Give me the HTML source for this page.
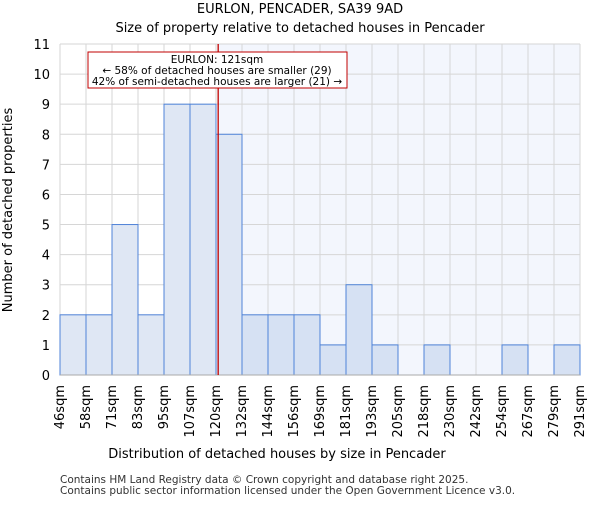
<!DOCTYPE html>
<html><head><meta charset="utf-8"><style>
body{margin:0;background:#fff;font-family:"Liberation Sans","DejaVu Sans",sans-serif}
svg text{font-family:"DejaVu Sans","Liberation Sans",sans-serif}
</style></head><body>
<svg id="c" width="600" height="500" viewBox="0 0 600 500">
<text x="300" y="13" text-anchor="middle" font-size="13">EURLON, PENCADER, SA39 9AD</text>
<text x="300" y="32" text-anchor="middle" font-size="13">Size of property relative to detached houses in Pencader</text>
<g id="plot"></g>
<text x="277" y="458" text-anchor="middle" font-size="13">Distribution of detached houses by size in Pencader</text>
<text transform="translate(12,210) rotate(-90)" text-anchor="middle" font-size="13">Number of detached properties</text>
<text x="60" y="483" font-size="10.5" fill="#333">Contains HM Land Registry data © Crown copyright and database right 2025.</text>
<text x="60" y="494" font-size="10.5" fill="#333">Contains public sector information licensed under the Open Government Licence v3.0.</text>
</svg>
<script>
const binLabels=["46sqm","58sqm","71sqm","83sqm","95sqm","107sqm","120sqm","132sqm","144sqm","156sqm","169sqm","181sqm","193sqm","205sqm","218sqm","230sqm","242sqm","254sqm","267sqm","279sqm","291sqm"];
const binEdges=[46,58,71,83,95,107,120,132,144,156,169,181,193,205,218,230,242,254,267,279,291];
const counts=[2,2,5,2,9,9,8,2,2,2,1,3,1,0,1,0,0,1,0,1];
const yTicks=[0,1,2,3,4,5,6,7,8,9,10,11];
const subjectSize=121;
const x0=60,x1=580,y0=375,y1=44,yMax=11;
const n=counts.length;
const bw=(x1-x0)/n;
const xIdx=i=>x0+i*bw;
const y=v=>y0-(v/yMax)*(y0-y1);
function xVal(v){for(let i=0;i<binEdges.length-1;i++){if(v<=binEdges[i+1])return xIdx(i+(v-binEdges[i])/(binEdges[i+1]-binEdges[i]));}return x1;}
const NS="http://www.w3.org/2000/svg";
const g=document.getElementById('plot');
function mk(t,a){const e=document.createElementNS(NS,t);for(const k in a)e.setAttribute(k,a[k]);g.appendChild(e);return e;}
const sx=xVal(subjectSize);
let bg=mk('rect',{x:sx,y:y1,width:x1-sx,height:y0-y1,fill:'#f3f6fd'});


for(let i=0;i<=n;i++){let l=mk('line',{x1:xIdx(i),x2:xIdx(i),y1:y1,y2:y0,stroke:'#d6d6d6','stroke-width':1});

}
yTicks.forEach(t=>{let l=mk('line',{x1:x0,x2:x1,y1:y(t),y2:y(t),stroke:'#d6d6d6','stroke-width':1});


let tx=mk('text',{x:x0-10,y:y(t)+5,'text-anchor':'end','font-size':13});tx.textContent=t;

});
counts.forEach((c,i)=>{if(c<=0)return;const left=xIdx(i)<sx;
let r=mk('rect',{x:xIdx(i),y:y(c),width:bw,height:y0-y(c),fill:left?'#dfe7f4':'#d6e1f3',stroke:'#4f83d8','stroke-width':1});

});
let ax=mk('line',{x1:x0,x2:x1,y1:y0,y2:y0,stroke:'#aaa','stroke-width':1});


binLabels.forEach((s,i)=>{const xx=xIdx(i)+4;let t=mk('text',{transform:`translate(${xx},385) rotate(-90)`,'text-anchor':'end','font-size':13});t.textContent=s;

});
let ml=mk('line',{x1:sx,x2:sx,y1:y1,y2:y0,stroke:'#c00000','stroke-width':1.3});


let box=mk('rect',{x:88,y:52,width:259,height:36,fill:'#fff',stroke:'#c00000','stroke-width':1});


[["EURLON: "+subjectSize+"sqm",63],["← 58% of detached houses are smaller (29)",74],["42% of semi-detached houses are larger (21) →",85]].forEach(([s,yy])=>{let t=mk('text',{x:217,y:yy,'text-anchor':'middle','font-size':10.5});t.textContent=s;

});
</script>
</body></html>
